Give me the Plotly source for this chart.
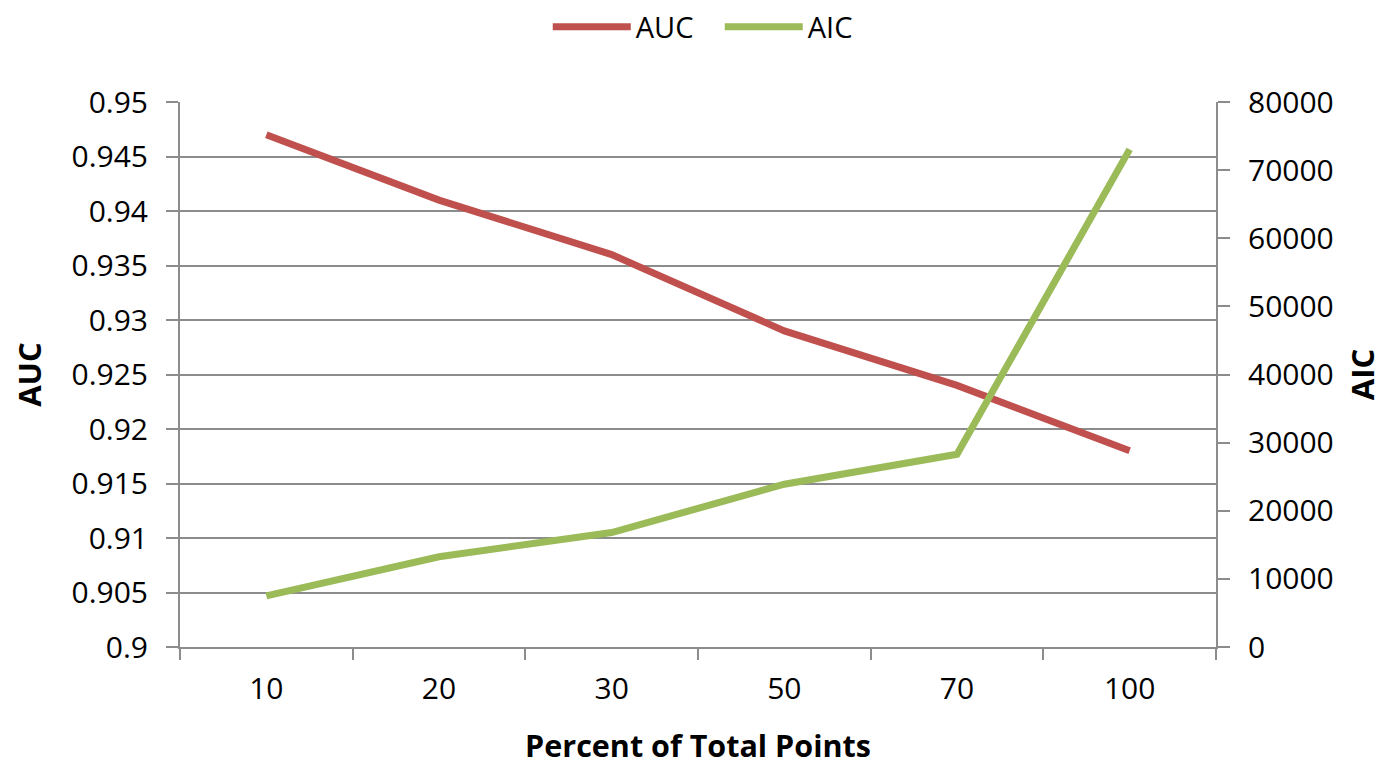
import plotly.graph_objects as go

categories = ["10", "20", "30", "50", "70", "100"]
auc_values = [0.947, 0.941, 0.936, 0.929, 0.924, 0.918]
aic_values = [7500, 13250, 16800, 23900, 28300, 73050]
auc_ticks = [0.9, 0.905, 0.91, 0.915, 0.92, 0.925, 0.93, 0.935, 0.94, 0.945, 0.95]
aic_ticks = [0, 10000, 20000, 30000, 40000, 50000, 60000, 70000, 80000]

FONT = "Open Sans"
GRID = "#8c8c8c"
RED = "#C0504D"
GREEN = "#9BBB59"

fig = go.Figure()
fig.add_trace(go.Scatter(x=categories, y=auc_values, name="AUC", mode="lines",
                         line=dict(color=RED, width=7), yaxis="y"))
fig.add_trace(go.Scatter(x=categories, y=aic_values, name="AIC", mode="lines",
                         line=dict(color=GREEN, width=7), yaxis="y2"))

fig.update_layout(
    width=1387, height=758,
    margin=dict(l=172, r=179, t=94, b=119, autoexpand=False),
    paper_bgcolor="white", plot_bgcolor="white",
    font=dict(family=FONT, size=30, color="black"),
    showlegend=True,
    legend=dict(orientation="h", x=0.521, xanchor="center", y=0.975, yref="container",
                yanchor="middle", font=dict(size=29), itemwidth=78,
                entrywidth=79, entrywidthmode="pixels",
                bgcolor="rgba(0,0,0,0)"),
    xaxis=dict(type="category", categoryorder="array", categoryarray=categories,
               range=[-0.5, len(categories) - 0.5], automargin=False,
               showgrid=False, showline=True, linecolor=GRID, linewidth=2,
               ticks="outside", ticklen=11, tickwidth=2, tickcolor=GRID,
               tickson="boundaries", ticklabelstandoff=14,
               title=dict(text="<b>Percent of Total Points</b>", standoff=32,
                          font=dict(size=30.5)),
               zeroline=False),
    yaxis=dict(range=[0.9, 0.95], tickvals=auc_ticks, automargin=False,
               ticktext=[f"{v:g}" for v in auc_ticks],
               showgrid=True, gridcolor=GRID, gridwidth=2,
               showline=True, linecolor=GRID, linewidth=2,
               ticks="outside", ticklen=12, tickwidth=2, tickcolor=GRID,
               ticklabelstandoff=12,
               title=dict(text="<b>AUC</b>", standoff=26, font=dict(size=31)),
               zeroline=False),
    yaxis2=dict(range=[0, 80000], tickvals=aic_ticks, automargin=False,
                ticktext=[str(v) for v in aic_ticks],
                overlaying="y", side="right", showgrid=False,
                showline=True, linecolor=GRID, linewidth=2,
                ticks="outside", ticklen=12, tickwidth=2, tickcolor=GRID,
                ticklabelstandoff=12,
                title=dict(text="<b>AIC</b>", standoff=20, font=dict(size=31)),
                zeroline=False),
)

fig.write_html("out.html")
